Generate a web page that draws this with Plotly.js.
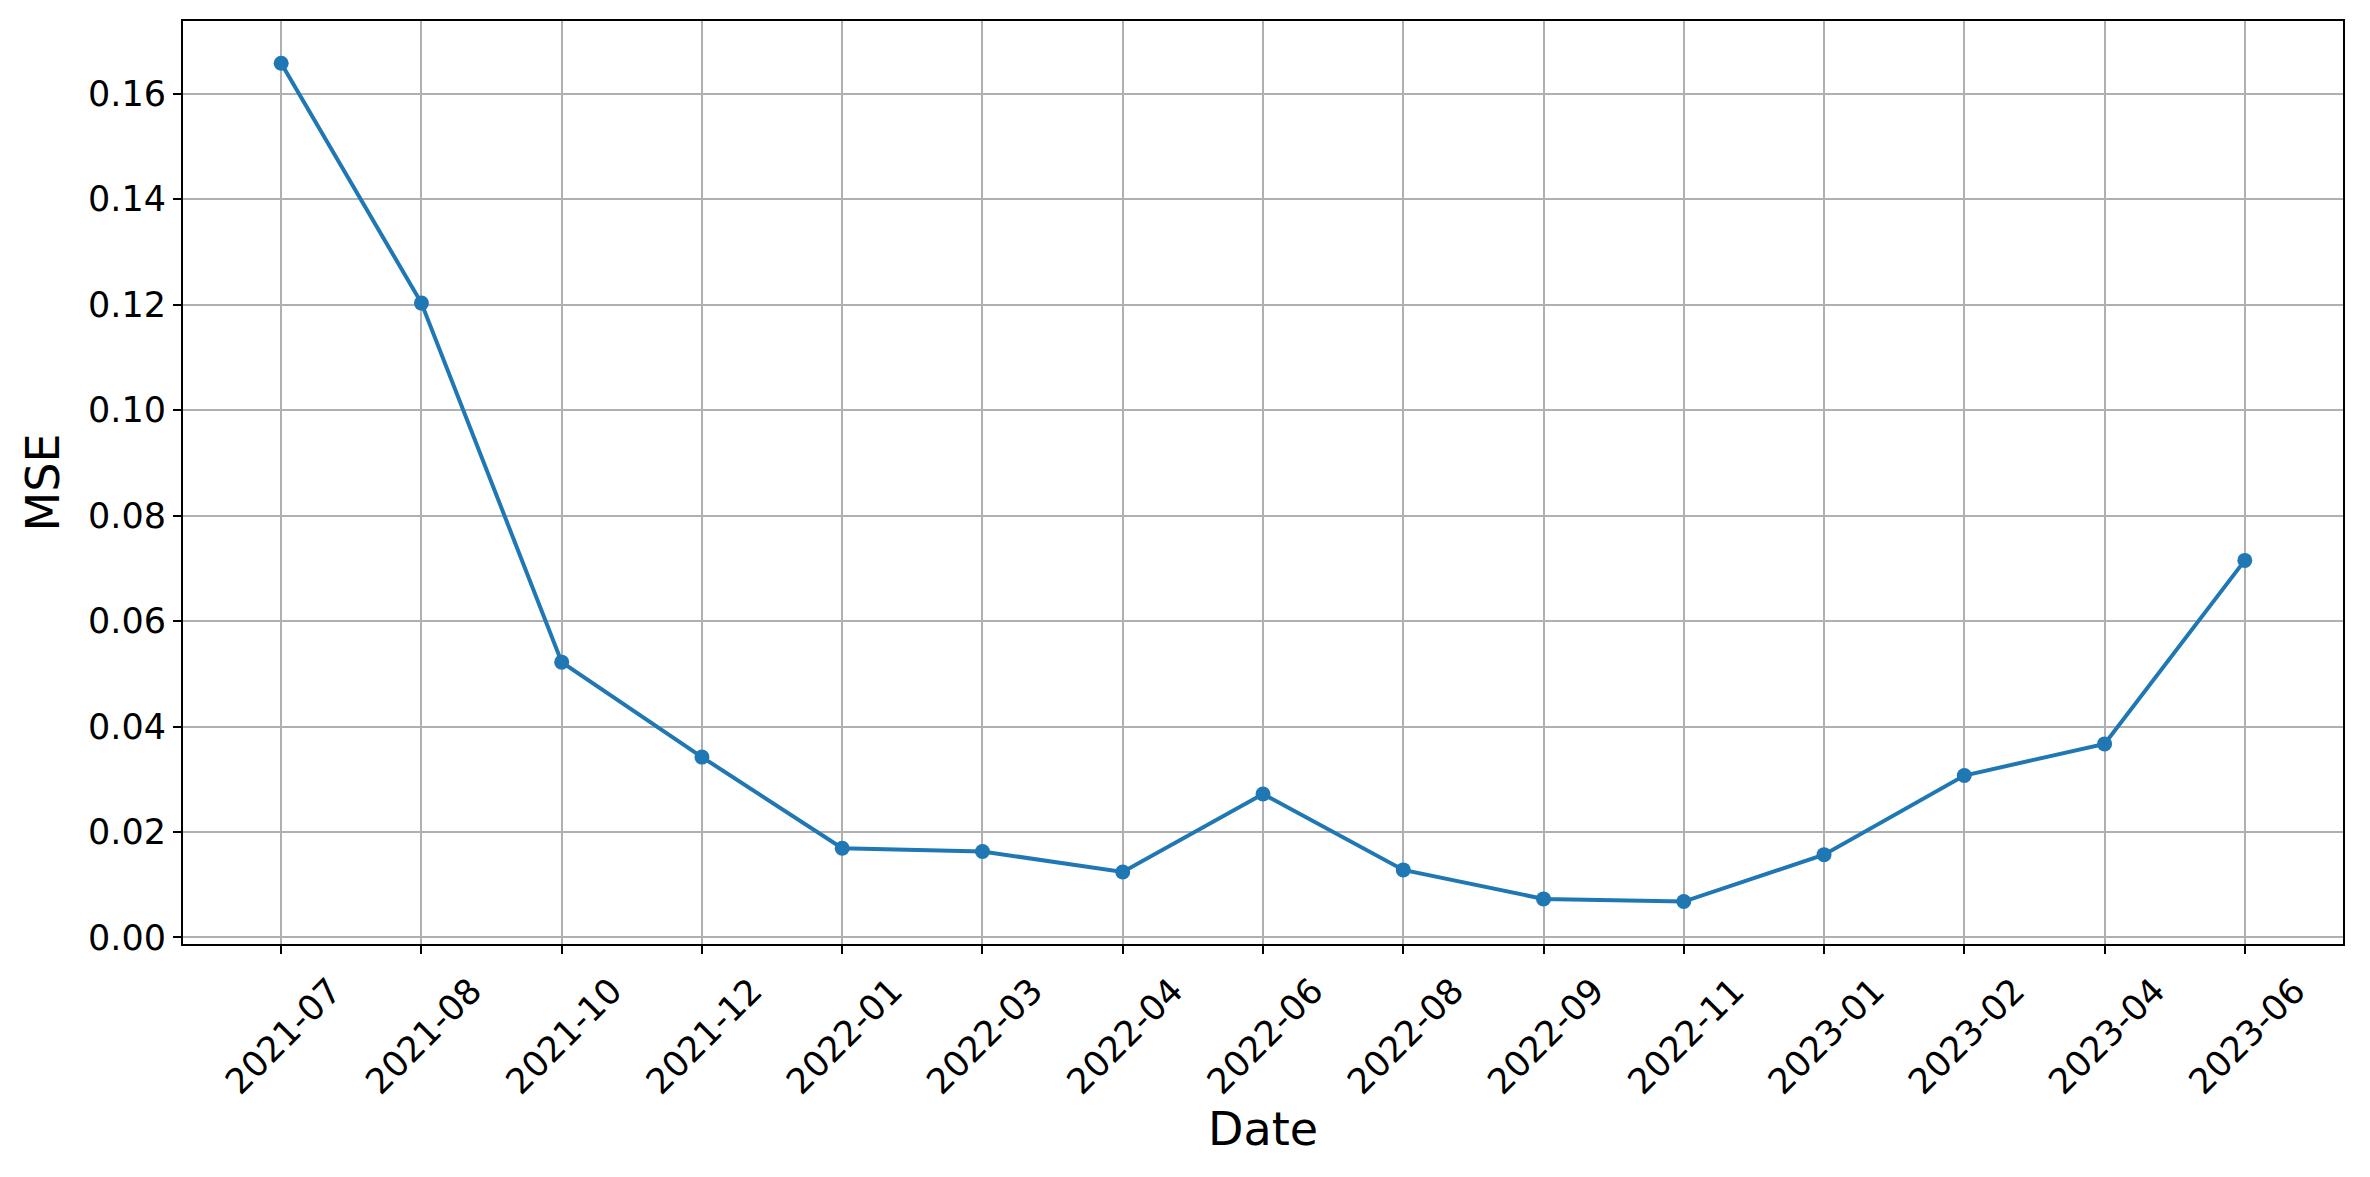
<!DOCTYPE html>
<html>
<head>
<meta charset="utf-8">
<script src="https://cdn.plot.ly/plotly-3.0.1.min.js"></script>
<style>html,body{margin:0;padding:0;background:#fff;}#chart{width:2370px;height:1177px;}</style>
</head>
<body>
<div id="chart"></div>
<script>
const dates = ["2021-07","2021-08","2021-10","2021-12","2022-01","2022-03","2022-04","2022-06","2022-08","2022-09","2022-11","2023-01","2023-02","2023-04","2023-06"];
const mse = [0.1658,0.1203,0.0522,0.0342,0.0169,0.0163,0.0124,0.0272,0.0128,0.0073,0.0068,0.0157,0.0307,0.0367,0.0715];
const yTicks = [0,0.02,0.04,0.06,0.08,0.10,0.12,0.14,0.16];

const font = "DejaVu Sans, sans-serif";
const trace = {
  x: dates, y: mse, type: "scatter", mode: "lines+markers",
  line: {color: "#1f77b4", width: 4},
  marker: {color: "#1f77b4", size: 15},
  cliponaxis: false
};
const layout = {
  width: 2370, height: 1177,
  margin: {l: 183, r: 27, t: 21, b: 233},
  paper_bgcolor: "#fff", plot_bgcolor: "#fff",
  showlegend: false,
  font: {family: font, color: "#000", size: 35},
  xaxis: {
    type: "category", range: [-0.7, 14.7],
    showgrid: true, gridcolor: "#b0b0b0", gridwidth: 2,
    showline: true, linecolor: "#000", linewidth: 2, mirror: true,
    ticks: "outside", ticklen: 8, tickwidth: 2, tickcolor: "#000",
    tickangle: -45, ticklabelshift: 50, ticklabelstandoff: 2,
    tickfont: {family: font, size: 35, color: "#000"},
    zeroline: false,
    title: {text: "Date", font: {family: font, size: 46, color: "#000"}, standoff: 4}
  },
  yaxis: {
    range: [-0.00125, 0.1738],
    tickvals: yTicks, tickformat: ".2f",
    showgrid: true, gridcolor: "#b0b0b0", gridwidth: 2,
    showline: true, linecolor: "#000", linewidth: 2, mirror: true,
    ticks: "outside", ticklen: 8, tickwidth: 2, tickcolor: "#000",
    tickfont: {family: font, size: 35, color: "#000"},
    zeroline: false,
    title: {text: "MSE", font: {family: font, size: 46, color: "#000"}, standoff: 14}
  }
};
Plotly.newPlot("chart", [trace], layout, {displayModeBar: false, staticPlot: true});
</script>
</body>
</html>
